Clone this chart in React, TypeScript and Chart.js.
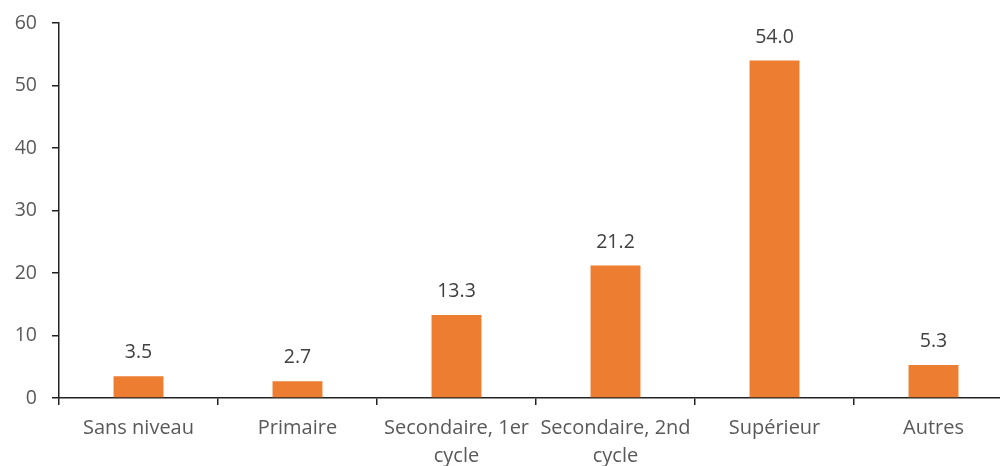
import React, { useEffect, useRef } from "react";
import { Chart, registerables } from "chart.js";

Chart.register(...registerables);

const categories: (string | string[])[] = [
  "Sans niveau",
  "Primaire",
  ["Secondaire, 1er", "cycle"],
  ["Secondaire, 2nd", "cycle"],
  "Supérieur",
  "Autres",
];
const values: number[] = [3.5, 2.7, 13.3, 21.2, 54.0, 5.3];
const yTicks = { min: 0, max: 60, step: 10 };

const FONT = "'Open Sans', 'DejaVu Sans', sans-serif";

const dataLabelPlugin = {
  id: "dataLabels",
  afterDatasetsDraw(chart: any) {
    const ctx = chart.ctx;
    const meta = chart.getDatasetMeta(0);
    ctx.save();
    ctx.font = `19.5px ${FONT}`;
    ctx.fillStyle = "#404040";
    ctx.textAlign = "center";
    ctx.textBaseline = "alphabetic";
    meta.data.forEach((bar: any, i: number) => {
      const v = chart.data.datasets[0].data[i] as number;
      ctx.fillText(v.toFixed(1), bar.x, bar.y - 18);
    });
    ctx.restore();
  },
};

export default function App() {
  const ref = useRef<HTMLCanvasElement | null>(null);
  useEffect(() => {
    document.body.style.margin = "0";
    const canvas = ref.current!;
    const chart = new Chart(canvas, {
      type: "bar",
      data: {
        labels: categories,
        datasets: [
          {
            data: values,
            backgroundColor: "#ED7D31",
            borderWidth: 0,
            barPercentage: 0.314,
            categoryPercentage: 1,
          },
        ],
      },
      options: {
        animation: false,
        responsive: false,
        devicePixelRatio: 1,
        layout: { padding: { left: 0, right: 7, top: 23, bottom: 0 } },
        plugins: { legend: { display: false }, tooltip: { enabled: false } },
        scales: {
          x: {
            offset: true,
            grid: {
              offset: true,
              drawOnChartArea: false,
              drawTicks: true,
              tickLength: 7,
              color: "#222",
              lineWidth: 1.5,
            },
            border: { display: true, color: "#222", width: 1.5 },
            ticks: {
              color: "#595959",
              font: { family: FONT, size: 20, lineHeight: 1.42 },
              padding: 9,
              maxRotation: 0,
              autoSkip: false,
            },
            afterFit: (s: any) => {
              s.height = 68;
              s.paddingLeft = 0;
              s.paddingRight = 0;
            },
          },
          y: {
            min: yTicks.min,
            max: yTicks.max,
            grid: {
              drawOnChartArea: false,
              drawTicks: true,
              tickLength: 7,
              color: "#222",
              lineWidth: 1.5,
            },
            border: { display: true, color: "#222", width: 1.5 },
            ticks: {
              stepSize: yTicks.step,
              color: "#595959",
              font: { family: FONT, size: 19.5 },
              padding: 15,
            },
            afterFit: (s: any) => {
              s.width = 59;
              s.paddingTop = 0;
              s.paddingBottom = 0;
            },
          },
        },
      },
      plugins: [dataLabelPlugin],
    });
    return () => chart.destroy();
  }, []);
  return (
    <div
      style={{
        position: "absolute",
        left: 0,
        top: 0,
        width: 1000,
        height: 466,
        overflow: "hidden",
        background: "#fff",
      }}
    >
      <canvas ref={ref} width={1020} height={466} style={{ width: 1020, height: 466 }} />
    </div>
  );
}
